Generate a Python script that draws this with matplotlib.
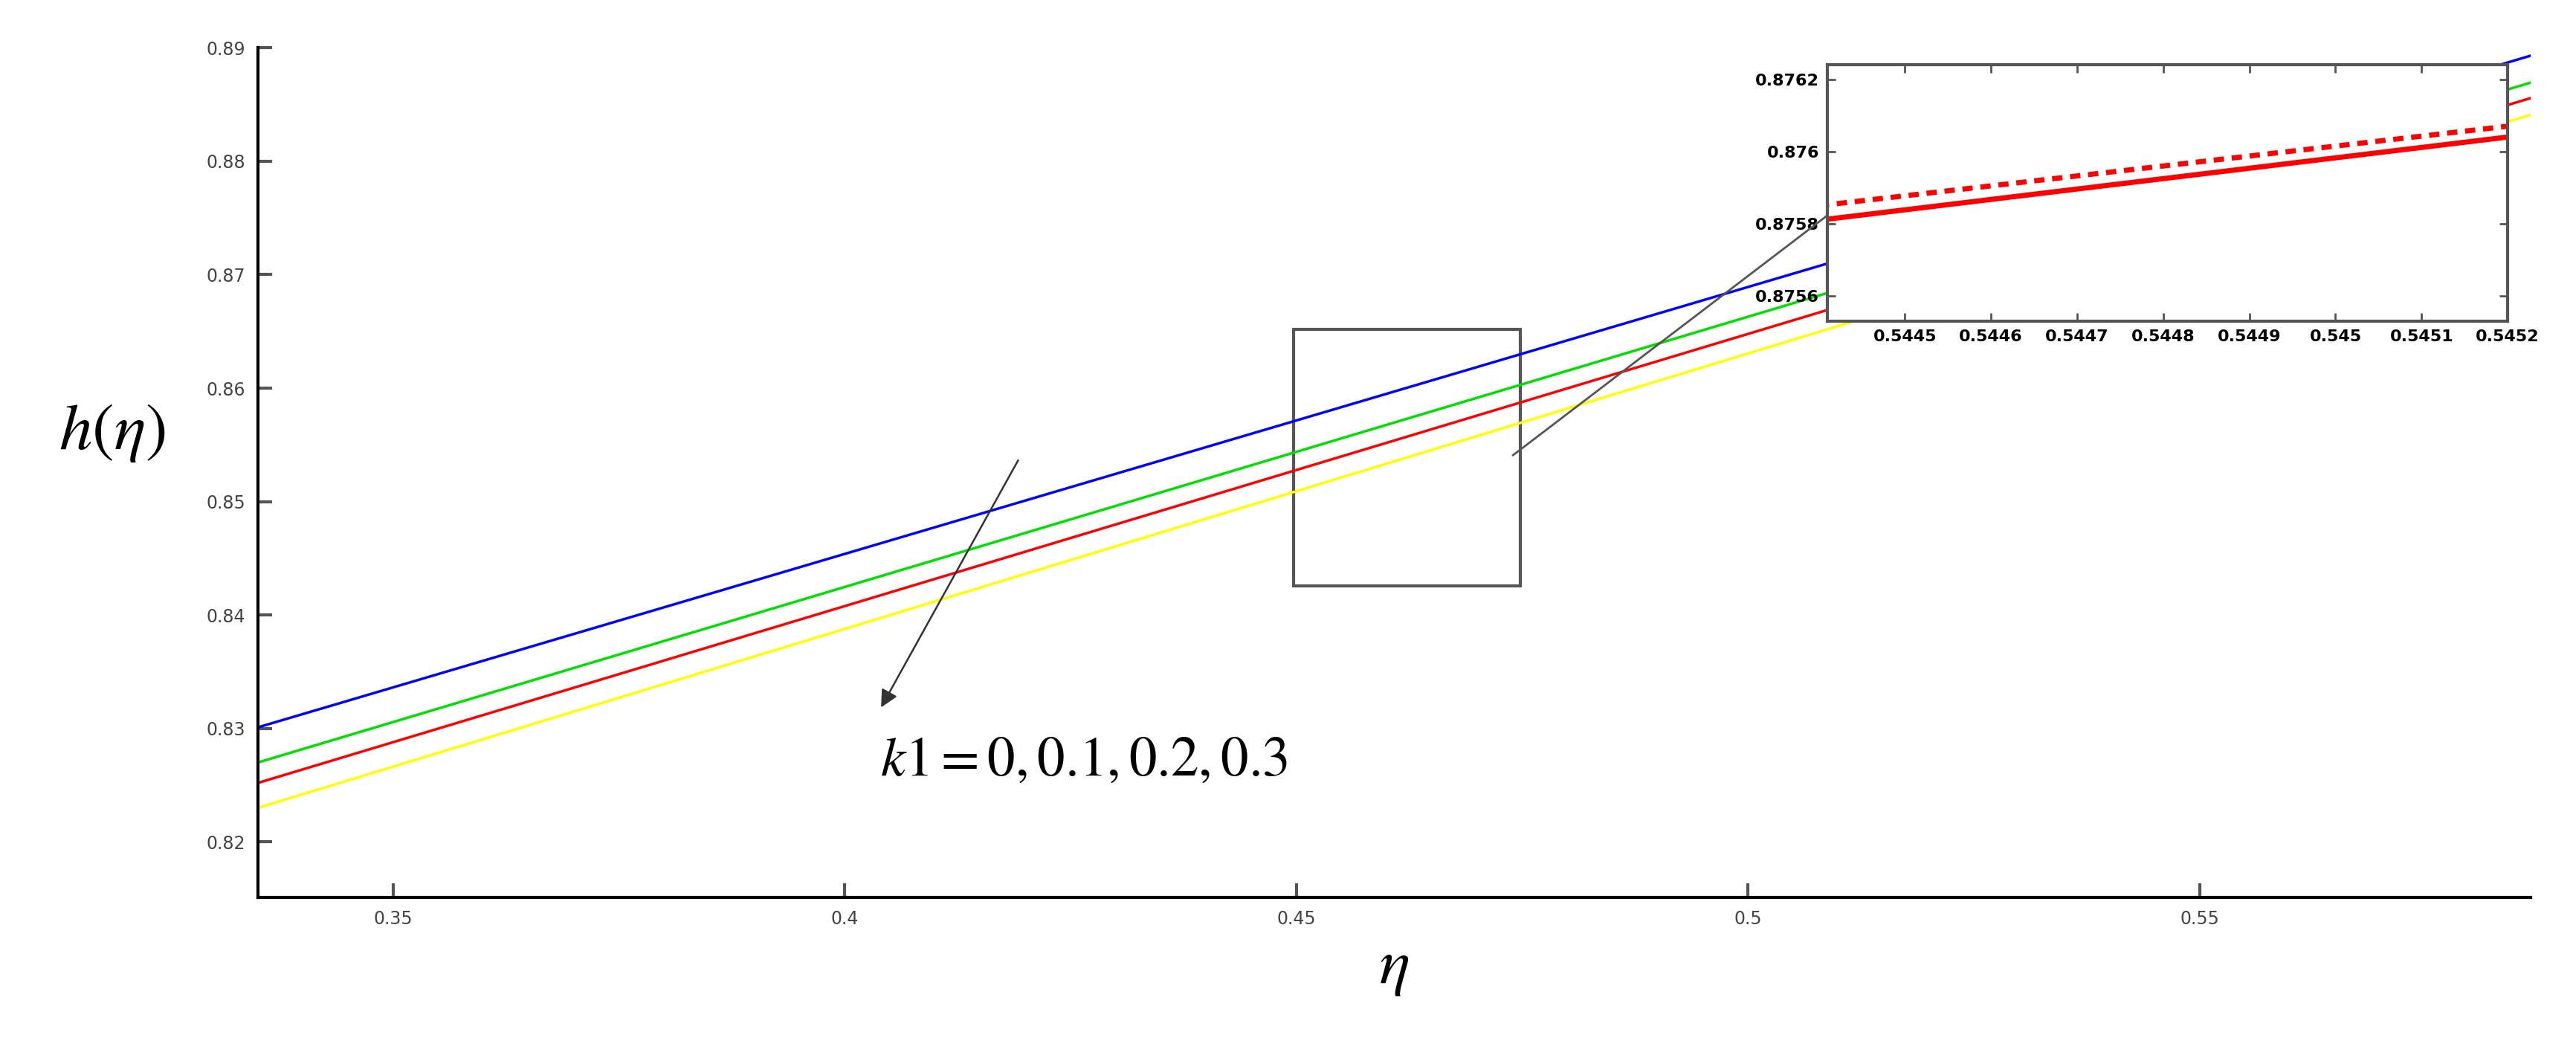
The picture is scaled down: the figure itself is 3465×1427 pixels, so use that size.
import matplotlib
matplotlib.use("Agg")
import matplotlib.pyplot as plt
from matplotlib.patches import Rectangle
from matplotlib.lines import Line2D

plt.rcParams['mathtext.fontset'] = 'stix'

# main curves: value at eta_start and eta_end for k1 = 0, 0.1, 0.2, 0.3
eta_span = [0.335, 0.508]
h_blue = [0.8301, 0.8708]
h_green = [0.8270, 0.8682]
h_red = [0.8252, 0.8667]
h_yellow = [0.8230, 0.8650]
colors = ['blue', '#00e000', 'red', '#ffff00']

# inset (zoom) data
inset_eta = [0.5444, 0.5452]
inset_solid = [0.87581, 0.87604]
inset_dash = [0.87585, 0.87607]
inset_xticks = [0.5445, 0.5446, 0.5447, 0.5448, 0.5449, 0.545, 0.5451, 0.5452]
inset_xlabels = ['0.5445', '0.5446', '0.5447', '0.5448', '0.5449', '0.545', '0.5451', '0.5452']
inset_yticks = [0.8756, 0.8758, 0.876, 0.8762]

xticks = [0.35, 0.4, 0.45, 0.5, 0.55]
yticks = [0.82, 0.83, 0.84, 0.85, 0.86, 0.87, 0.88, 0.89]

fig = plt.figure(figsize=(34.66, 14.27), dpi=100)
ax = fig.add_axes([0.100, 0.154, 0.882, 0.801])

xmax = 0.5866
for h, c in zip([h_blue, h_green, h_red, h_yellow], colors):
    slope = (h[1] - h[0]) / (eta_span[1] - eta_span[0])
    ax.plot([eta_span[0], xmax], [h[0], h[0] + slope * (xmax - eta_span[0])], color=c, lw=2.5)

ax.set_xlim(0.3350, xmax)
ax.set_ylim(0.8151, 0.89)
ax.set_xticks(xticks)
ax.set_xticklabels(['0.35', '0.4', '0.45', '0.5', '0.55'])
ax.set_yticks(yticks)
ax.set_yticklabels(['0.82', '0.83', '0.84', '0.85', '0.86', '0.87', '0.88', '0.89'])
ax.tick_params(direction='in', length=14, width=3, color='#555555', labelsize=17, labelcolor='#444444', pad=12)
for s in ['top', 'right']:
    ax.spines[s].set_visible(False)
for s in ['left', 'bottom']:
    ax.spines[s].set_linewidth(3)
ax.set_xlabel(r'$\eta$', fontsize=62, labelpad=8)
ax.set_ylabel(r'$h(\eta)$', fontsize=64, rotation=0)
ax.yaxis.set_label_coords(-0.064, 0.51)

# zoom box
ax.add_patch(Rectangle((0.4497, 0.8426), 0.0251, 0.0226, fill=False, edgecolor='#555555', lw=3))

# annotation
ax.annotate('', xy=(0.4039, 0.8317), xytext=(0.4193, 0.8538),
            arrowprops=dict(arrowstyle='-|>', color='#333333', lw=1.8, mutation_scale=35))
ax.text(0.4039, 0.8272, r'$k1 = 0,0.1,0.2,0.3$', fontsize=54, va='center', ha='left')

# connector line
fig.add_artist(Line2D([0.5872, 0.7092], [0.571, 0.797], color='#555555', lw=2))

# inset
ins = fig.add_axes([0.7092, 0.697, 0.2640, 0.242])
ins.plot(inset_eta, inset_solid, color='red', lw=5)
ins.plot(inset_eta, inset_dash, color='red', lw=5, ls=(0, (2, 1.5)))
ins.set_xlim(0.54441, 0.54520)
ins.set_ylim(0.87553, 0.87624)
ins.set_xticks(inset_xticks)
ins.set_xticklabels(inset_xlabels)
ins.set_yticks(inset_yticks)
ins.set_yticklabels(['0.8756', '0.8758', '0.876', '0.8762'])
ins.tick_params(direction='in', length=8, width=2, color='#555555', labelsize=16, pad=8,
                top=True, right=True)
for lab in ins.get_xticklabels() + ins.get_yticklabels():
    lab.set_fontweight('bold')
for s in ins.spines.values():
    s.set_linewidth(3)
    s.set_color('#555555')

fig.savefig('out.png', dpi=100, facecolor='white')
